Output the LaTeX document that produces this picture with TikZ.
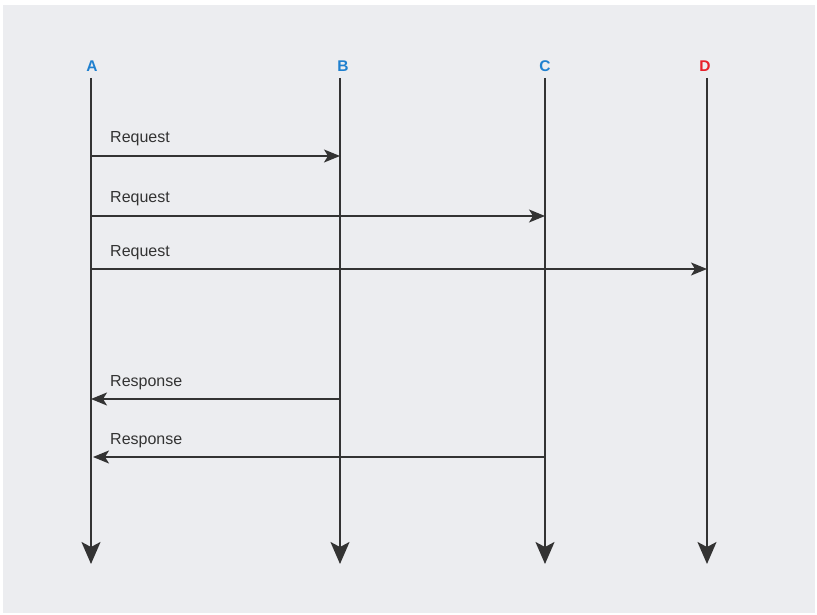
\documentclass[tikz,border=0pt]{standalone}
\usepackage{fontspec}
\setmainfont{Liberation Sans}
\usetikzlibrary{arrows.meta}
\definecolor{bgpanel}{HTML}{ECEDF0}
\definecolor{ink}{HTML}{333333}
\definecolor{headblue}{HTML}{1F80CF}
\definecolor{headred}{HTML}{E8202A}
\tikzset{
  lifeline/.style={draw=ink, line width=1.8pt,
    -{Stealth[length=22pt, width=19pt, inset=5pt]}},
  msg/.style={draw=ink, line width=1.6pt,
    -{Stealth[length=16pt, width=13pt, inset=4pt]}},
  head/.style={font=\fontsize{15.5}{18}\selectfont\bfseries, inner sep=0pt},
  msglabel/.style={font=\fontsize{16}{19}\selectfont, text=ink, inner sep=0pt, anchor=base west},
  pt/.style={inner sep=0pt, minimum size=0pt}
}
\begin{document}
\begin{tikzpicture}[x=1pt, y=-1pt]
  \useasboundingbox (0,0) rectangle (817,615);
  \fill[white] (0,0) rectangle (817,615);
  \fill[bgpanel] (3,5) rectangle (815,613);

  % participants
  \node[head, text=headblue] (hA) at (92,66) {A};
  \node[head, text=headblue] (hB) at (343,66) {B};
  \node[head, text=headblue] (hC) at (545,66) {C};
  \node[head, text=headred]  (hD) at (705,66) {D};

  % lifeline end points
  \coordinate (tA) at (91,78);  \coordinate (bA) at (91,564);
  \coordinate (tB) at (340,78); \coordinate (bB) at (340,564);
  \coordinate (tC) at (545,78); \coordinate (bC) at (545,564);
  \coordinate (tD) at (707,78); \coordinate (bD) at (707,564);

  \draw[lifeline] (tA) -- (bA);
  \draw[lifeline] (tB) -- (bB);
  \draw[lifeline] (tC) -- (bC);
  \draw[lifeline] (tD) -- (bD);

  % message anchors on the lifelines
  \coordinate (a1) at (91,156);  \coordinate (b1) at (340,156);
  \coordinate (a2) at (91,216);  \coordinate (c2) at (545,216);
  \coordinate (a3) at (91,269);  \coordinate (d3) at (707,269);
  \coordinate (b4) at (340,399); \coordinate (a4) at (91,399);
  \coordinate (c5) at (545,457); \coordinate (a5) at (93,457);

  \draw[msg] (a1) -- (b1);
  \draw[msg] (a2) -- (c2);
  \draw[msg] (a3) -- (d3);
  \draw[msg] (b4) -- (a4);
  \draw[msg] (c5) -- (a5);

  % message labels
  \node[msglabel] (l1) at (110,143) {Request};
  \node[msglabel] (l2) at (110,203) {Request};
  \node[msglabel] (l3) at (110,256) {Request};
  \node[msglabel] (l4) at (110,386) {Response};
  \node[msglabel] (l5) at (110,444) {Response};
\end{tikzpicture}
\end{document}
